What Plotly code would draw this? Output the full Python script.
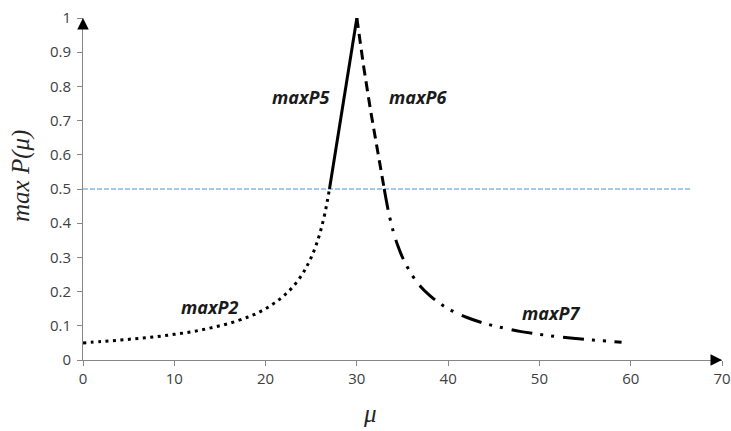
import plotly.graph_objects as go

# ---- data ----
mu2 = [0, 2, 4, 6, 8, 10, 12, 14, 16, 18, 19, 20, 21, 22, 23, 24, 24.5, 25, 25.5, 26, 26.5, 27]
p2 = [0.050, 0.054, 0.058, 0.063, 0.068, 0.075, 0.083, 0.094, 0.107, 0.125, 0.136, 0.150,
      0.167, 0.188, 0.214, 0.250, 0.273, 0.300, 0.333, 0.375, 0.429, 0.500]

mu5 = [27, 28, 29, 30]
p5 = [0.50, 0.665, 0.83, 1.00]

mu6 = [30, 30.75, 31.5, 32.4, 33]
p6 = [1.00, 0.857, 0.73, 0.593, 0.50]

mu7 = [33, 33.5, 34, 34.5, 35, 36, 37, 38, 39, 40, 42, 44, 46, 48, 50, 52, 54, 56, 58, 59]
p7 = [0.500, 0.429, 0.375, 0.333, 0.300, 0.250, 0.214, 0.188, 0.167, 0.150, 0.125, 0.107,
      0.094, 0.083, 0.075, 0.068, 0.063, 0.058, 0.054, 0.052]

thr_x = [0, 66.5]
thr_y = [0.5, 0.5]

label_text = ["maxP2", "maxP5", "maxP6", "maxP7"]
label_x = [13.9, 23.9, 36.7, 51.3]
label_y = [0.156, 0.77, 0.77, 0.137]

x_ticks = [0, 10, 20, 30, 40, 50, 60, 70]
y_ticks = [0, 0.1, 0.2, 0.3, 0.4, 0.5, 0.6, 0.7, 0.8, 0.9, 1]
y_ticklabels = ["0", "0.1", "0.2", "0.3", "0.4", "0.5", "0.6", "0.7", "0.8", "0.9", "1"]

fig = go.Figure()

fig.add_trace(go.Scatter(x=thr_x, y=thr_y, mode="lines",
                         line=dict(color="#4A90D9", width=1, dash="5px,2px"),
                         hoverinfo="skip", showlegend=False))
fig.add_trace(go.Scatter(x=mu2, y=p2, mode="lines", line_shape="spline",
                         line=dict(color="black", width=3, dash="3px,4.5px"),
                         showlegend=False))
fig.add_trace(go.Scatter(x=mu5, y=p5, mode="lines",
                         line=dict(color="black", width=3),
                         showlegend=False))
fig.add_trace(go.Scatter(x=mu6, y=p6, mode="lines",
                         line=dict(color="black", width=3, dash="10px,6px"),
                         showlegend=False))
fig.add_trace(go.Scatter(x=mu7, y=p7, mode="lines", line_shape="spline",
                         line=dict(color="black", width=3, dash="21px,8px,3px,8px,3px,9px"),
                         showlegend=False))

annotations = []
for t, lx, ly in zip(label_text, label_x, label_y):
    annotations.append(dict(x=lx, y=ly, xref="x", yref="y", text="<b><i>%s</i></b>" % t,
                            showarrow=False, xanchor="center", yanchor="middle",
                            font=dict(family="Open Sans", size=18, color="#1a1a1a")))

# axis arrows
annotations.append(dict(x=0, y=1, xref="x", yref="y", ax=0, ay=12, axref="pixel", ayref="pixel",
                        text="", showarrow=True, arrowhead=2, arrowsize=2.3, arrowwidth=1,
                        arrowcolor="black"))
annotations.append(dict(x=70, y=0, xref="x", yref="y", ax=-12, ay=0, axref="pixel", ayref="pixel",
                        text="", showarrow=True, arrowhead=2, arrowsize=2.3, arrowwidth=1,
                        arrowcolor="black"))

# axis titles
annotations.append(dict(x=0, y=0.538, xref="paper", yref="paper", xshift=-62,
                        text="<i>max P(μ)</i>", textangle=-90, showarrow=False,
                        xanchor="center", yanchor="middle",
                        font=dict(family="Liberation Serif", size=25, color="#262626")))
annotations.append(dict(x=0.449, y=0, xref="paper", yref="paper", yshift=-53,
                        text="<i>μ</i>", showarrow=False,
                        xanchor="center", yanchor="middle",
                        font=dict(family="Liberation Serif", size=25, color="#262626")))

fig.update_layout(
    width=731, height=431,
    margin=dict(l=83, r=9, t=18, b=71),
    paper_bgcolor="white", plot_bgcolor="white",
    annotations=annotations,
    xaxis=dict(range=[0, 70], tickvals=x_ticks, showgrid=False, zeroline=False,
               showline=True, linecolor="#868686", linewidth=1, automargin=False,
               ticks="outside", ticklen=5, tickcolor="#868686",
               tickfont=dict(family="Open Sans", size=15, color="#404040")),
    yaxis=dict(range=[0, 1], tickvals=y_ticks, ticktext=y_ticklabels, showgrid=False,
               zeroline=False, showline=True, linecolor="#868686", linewidth=1,
               automargin=False,
               ticks="outside", ticklen=5, tickcolor="#868686", ticklabelstandoff=3,
               tickfont=dict(family="Open Sans", size=15, color="#404040")),
)

fig.write_html("out.html")
